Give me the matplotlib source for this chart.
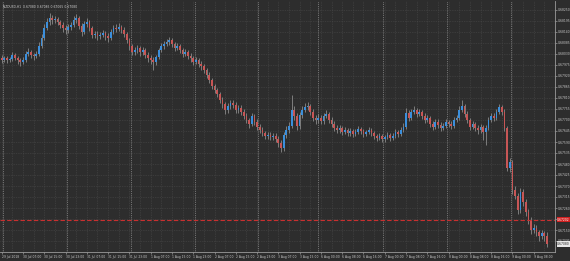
import matplotlib
matplotlib.use("Agg")
import matplotlib.pyplot as plt
import numpy as np

# NZDUSD H1 candles, 29 Jul 2018 23:00 -> 9 Aug 2018
first_open = 0.68010
closes = [
    0.68000, 0.68010, 0.68000, 0.68005, 0.68025, 0.68010, 0.68000, 0.67990, 0.68000, 0.68030,
    0.68040, 0.68025, 0.68020, 0.68030, 0.68070, 0.68110, 0.68160, 0.68190, 0.68210, 0.68200,
    0.68205, 0.68190, 0.68175, 0.68160, 0.68150, 0.68165, 0.68175, 0.68200, 0.68210, 0.68170,
    0.68140, 0.68180, 0.68190, 0.68160, 0.68125, 0.68130, 0.68120, 0.68125, 0.68135, 0.68120,
    0.68110, 0.68140, 0.68160, 0.68155, 0.68165, 0.68150, 0.68130, 0.68100, 0.68070, 0.68040,
    0.68050, 0.68060, 0.68040, 0.68050, 0.68025, 0.68010, 0.68000, 0.67990, 0.68015, 0.68050,
    0.68070, 0.68080, 0.68090, 0.68100, 0.68080, 0.68060, 0.68070, 0.68050, 0.68030, 0.68040,
    0.68020, 0.68010, 0.67990, 0.68000, 0.67980, 0.67970, 0.67950, 0.67925, 0.67900, 0.67870,
    0.67850, 0.67830, 0.67800, 0.67780, 0.67750, 0.67770, 0.67785, 0.67775, 0.67750, 0.67760,
    0.67740, 0.67720, 0.67700, 0.67680, 0.67720, 0.67690, 0.67665, 0.67650, 0.67635, 0.67620,
    0.67625, 0.67615, 0.67620, 0.67605, 0.67585, 0.67560, 0.67625, 0.67650, 0.67670, 0.67750,
    0.67720, 0.67670, 0.67725, 0.67750, 0.67765, 0.67770, 0.67740, 0.67710, 0.67700, 0.67710,
    0.67695, 0.67720, 0.67730, 0.67700, 0.67680, 0.67660, 0.67650, 0.67660, 0.67640, 0.67650,
    0.67635, 0.67645, 0.67630, 0.67640, 0.67655, 0.67645, 0.67630, 0.67640, 0.67650, 0.67635,
    0.67620, 0.67610, 0.67620, 0.67605, 0.67615, 0.67625, 0.67610, 0.67620, 0.67640, 0.67630,
    0.67650, 0.67665, 0.67735, 0.67710, 0.67740, 0.67750, 0.67730, 0.67740, 0.67720, 0.67700,
    0.67710, 0.67680, 0.67665, 0.67690, 0.67675, 0.67660, 0.67670, 0.67690, 0.67680, 0.67670,
    0.67700, 0.67710, 0.67750, 0.67770, 0.67730, 0.67700, 0.67665, 0.67680, 0.67660, 0.67650,
    0.67665, 0.67640, 0.67660, 0.67700, 0.67720, 0.67710, 0.67740, 0.67765, 0.67740, 0.67660,
    0.67460, 0.67490, 0.67350, 0.67320, 0.67250, 0.67340, 0.67290, 0.67240, 0.67200, 0.67150,
    0.67160, 0.67140, 0.67120, 0.67135, 0.67120, 0.67080,
]
highs = [
    0.68025, 0.68020, 0.68020, 0.68015, 0.68040, 0.68035, 0.68020, 0.68010, 0.68015, 0.68045,
    0.68060, 0.68050, 0.68035, 0.68045, 0.68090, 0.68130, 0.68180, 0.68210, 0.68235, 0.68225,
    0.68220, 0.68215, 0.68200, 0.68190, 0.68175, 0.68180, 0.68190, 0.68220, 0.68230, 0.68220,
    0.68185, 0.68195, 0.68210, 0.68200, 0.68170, 0.68145, 0.68145, 0.68140, 0.68150, 0.68145,
    0.68135, 0.68155, 0.68175, 0.68180, 0.68185, 0.68175, 0.68165, 0.68140, 0.68110, 0.68080,
    0.68065, 0.68075, 0.68070, 0.68065, 0.68060, 0.68040, 0.68025, 0.68015, 0.68025, 0.68060,
    0.68085, 0.68095, 0.68105, 0.68115, 0.68110, 0.68090, 0.68085, 0.68080, 0.68060, 0.68055,
    0.68050, 0.68035, 0.68020, 0.68015, 0.68010, 0.67995, 0.67980, 0.67960, 0.67940, 0.67910,
    0.67880, 0.67860, 0.67840, 0.67815, 0.67790, 0.67785, 0.67800, 0.67800, 0.67790, 0.67775,
    0.67775, 0.67755, 0.67735, 0.67710, 0.67735, 0.67730, 0.67705, 0.67680, 0.67665, 0.67645,
    0.67640, 0.67640, 0.67635, 0.67635, 0.67620, 0.67600, 0.67640, 0.67670, 0.67690, 0.67825,
    0.67770, 0.67735, 0.67740, 0.67770, 0.67785, 0.67790, 0.67780, 0.67755, 0.67725, 0.67730,
    0.67725, 0.67735, 0.67750, 0.67740, 0.67715, 0.67695, 0.67675, 0.67675, 0.67670, 0.67665,
    0.67660, 0.67660, 0.67655, 0.67655, 0.67670, 0.67665, 0.67655, 0.67650, 0.67665, 0.67660,
    0.67645, 0.67630, 0.67635, 0.67630, 0.67625, 0.67640, 0.67635, 0.67635, 0.67655, 0.67650,
    0.67665, 0.67685, 0.67760, 0.67750, 0.67755, 0.67770, 0.67760, 0.67755, 0.67750, 0.67735,
    0.67725, 0.67720, 0.67695, 0.67705, 0.67705, 0.67690, 0.67685, 0.67705, 0.67700, 0.67695,
    0.67715, 0.67725, 0.67770, 0.67800, 0.67780, 0.67745, 0.67710, 0.67695, 0.67690, 0.67675,
    0.67680, 0.67675, 0.67675, 0.67715, 0.67735, 0.67735, 0.67755, 0.67780, 0.67775, 0.67755,
    0.67670, 0.67510, 0.67500, 0.67370, 0.67335, 0.67360, 0.67355, 0.67305, 0.67255, 0.67215,
    0.67180, 0.67175, 0.67150, 0.67150, 0.67145, 0.67140,
]
lows = [
    0.67985, 0.67990, 0.67985, 0.67990, 0.67995, 0.68000, 0.67980, 0.67970, 0.67980, 0.67990,
    0.68020, 0.68010, 0.68000, 0.68010, 0.68020, 0.68060, 0.68100, 0.68150, 0.68175, 0.68180,
    0.68185, 0.68175, 0.68160, 0.68140, 0.68130, 0.68135, 0.68150, 0.68165, 0.68185, 0.68155,
    0.68120, 0.68130, 0.68165, 0.68145, 0.68110, 0.68110, 0.68100, 0.68105, 0.68115, 0.68100,
    0.68090, 0.68100, 0.68130, 0.68140, 0.68145, 0.68135, 0.68115, 0.68085, 0.68050, 0.68025,
    0.68025, 0.68035, 0.68020, 0.68025, 0.68010, 0.67990, 0.67980, 0.67950, 0.67975, 0.68005,
    0.68040, 0.68055, 0.68070, 0.68075, 0.68065, 0.68045, 0.68050, 0.68035, 0.68015, 0.68020,
    0.68005, 0.67990, 0.67975, 0.67980, 0.67965, 0.67950, 0.67935, 0.67910, 0.67885, 0.67855,
    0.67835, 0.67815, 0.67785, 0.67760, 0.67730, 0.67735, 0.67755, 0.67760, 0.67735, 0.67735,
    0.67725, 0.67705, 0.67685, 0.67660, 0.67670, 0.67675, 0.67650, 0.67635, 0.67620, 0.67605,
    0.67605, 0.67600, 0.67600, 0.67590, 0.67565, 0.67540, 0.67545, 0.67610, 0.67635, 0.67660,
    0.67700, 0.67650, 0.67655, 0.67710, 0.67740, 0.67750, 0.67725, 0.67695, 0.67680, 0.67685,
    0.67680, 0.67680, 0.67710, 0.67685, 0.67665, 0.67645, 0.67635, 0.67635, 0.67625, 0.67630,
    0.67620, 0.67620, 0.67615, 0.67620, 0.67630, 0.67630, 0.67615, 0.67620, 0.67630, 0.67620,
    0.67605, 0.67595, 0.67600, 0.67590, 0.67590, 0.67605, 0.67595, 0.67600, 0.67610, 0.67615,
    0.67620, 0.67640, 0.67655, 0.67695, 0.67700, 0.67730, 0.67715, 0.67720, 0.67705, 0.67685,
    0.67690, 0.67665, 0.67650, 0.67655, 0.67660, 0.67645, 0.67650, 0.67660, 0.67665, 0.67655,
    0.67660, 0.67690, 0.67700, 0.67740, 0.67715, 0.67685, 0.67650, 0.67655, 0.67645, 0.67630,
    0.67635, 0.67600, 0.67575, 0.67650, 0.67690, 0.67695, 0.67700, 0.67730, 0.67725, 0.67645,
    0.67445, 0.67440, 0.67330, 0.67305, 0.67230, 0.67235, 0.67270, 0.67220, 0.67180, 0.67130,
    0.67135, 0.67120, 0.67095, 0.67105, 0.67095, 0.67065,
]

time_labels = [
    "29 Jul 2018", "30 Jul 07:00", "30 Jul 15:00", "30 Jul 23:00", "31 Jul 07:00",
    "31 Jul 15:00", "31 Jul 23:00", "1 Aug 07:00", "1 Aug 15:00", "1 Aug 23:00",
    "2 Aug 07:00", "2 Aug 15:00", "2 Aug 23:00", "3 Aug 07:00", "3 Aug 15:00",
    "6 Aug 00:00", "6 Aug 08:00", "6 Aug 16:00", "7 Aug 00:00", "7 Aug 08:00",
    "7 Aug 16:00", "8 Aug 00:00", "8 Aug 08:00", "8 Aug 16:00", "9 Aug 00:00",
    "9 Aug 08:00",
]
day_breaks = [0.5, 24.5, 48.5, 72.5, 96.5, 119.0, 143.5, 167.5, 191.5]
price_ticks = [0.68250 - 0.00055 * k for k in range(22)]
hline_price = 0.67202
title = "NZDUSD,H1  0.67080 0.67085 0.67065 0.67080"

bg = "#2d2d2d"
up_col = "#3b8fdc"
dn_col = "#c75656"
wick_col = "#8a8a8a"
fs = 2.2

closes = np.array(closes)
opens = np.concatenate([[first_open], closes[:-1]])
highs = np.array(highs)
lows = np.array(lows)
idx = np.arange(len(closes))
ymin, ymax = 0.67040, 0.68295

fig = plt.figure(figsize=(5.70, 2.61), dpi=100, facecolor=bg)
ax = fig.add_axes([0.0, 9 / 261, 555 / 570, 251 / 261], facecolor=bg)

ax.set_xlim(-0.64, 208.0)
ax.set_ylim(ymin, ymax)

# grid
for gx in range(0, 208, 4):
    ax.axvline(gx, color="#4a4a4a", lw=0.5, ls=(0, (1, 1.5)), zorder=0)
for p in price_ticks:
    ax.axhline(p, color="#4a4a4a", lw=0.5, ls=(0, (1, 1.5)), zorder=0)
for d in day_breaks:
    ax.axvline(d, color="#8a8a8a", lw=0.6, ls=(0, (1, 1.2)), zorder=0.5)

# candles
up = closes >= opens
ax.vlines(idx, lows, highs, color=wick_col, lw=0.6, zorder=2)
body = np.where(np.abs(closes - opens) < 0.00002, 0.00002, closes - opens)
ax.bar(idx[up], body[up], bottom=opens[up], width=0.65, color=up_col,
       linewidth=0, zorder=3)
ax.bar(idx[~up], body[~up], bottom=opens[~up], width=0.65, color=dn_col,
       linewidth=0, zorder=3)

# horizontal line
ax.axhline(hline_price, color="#c83030", lw=0.8, ls=(0, (4, 2)), zorder=4)

# axes styling
for s in ["top", "left"]:
    ax.spines[s].set_visible(False)
for s in ["right", "bottom"]:
    ax.spines[s].set_color("#9a9a9a")
    ax.spines[s].set_linewidth(0.6)

# the red price tag takes the place of the tick label it covers
tick_texts = ["" if abs(p - hline_price) < 0.0002 else f"{p:.5f}" for p in price_ticks]
ax.yaxis.tick_right()
ax.set_yticks(price_ticks)
ax.set_yticklabels(tick_texts)
ax.tick_params(axis="y", colors="#9a9a9a", labelcolor="#c8c8c8", labelsize=fs,
               length=1.5, width=0.5, pad=0.8)
ax.set_xticks(np.arange(0, 208, 8))
ax.set_xticklabels(time_labels, ha="left")
ax.tick_params(axis="x", colors="#9a9a9a", labelcolor="#c8c8c8", labelsize=fs,
               length=1.5, width=0.5, pad=1)

# price tags on the right axis
ax.text(1.004, (hline_price - ymin) / (ymax - ymin), f"{hline_price:.5f}",
        transform=ax.transAxes, fontsize=fs, color="white", va="center", ha="left",
        bbox=dict(boxstyle="square,pad=0.2", fc="#d02020", ec="none"), zorder=5)
ax.text(1.004, (closes[-1] - ymin) / (ymax - ymin), f"{closes[-1]:.5f}",
        transform=ax.transAxes, fontsize=fs, color="#222222", va="center", ha="left",
        bbox=dict(boxstyle="square,pad=0.2", fc="#e8e8e8", ec="none"), zorder=5)

ax.text(0.006, 0.985, title, transform=ax.transAxes, fontsize=fs, color="#d0d0d0",
        va="top", ha="left")

fig.savefig("out.png", dpi=100, facecolor=bg)
